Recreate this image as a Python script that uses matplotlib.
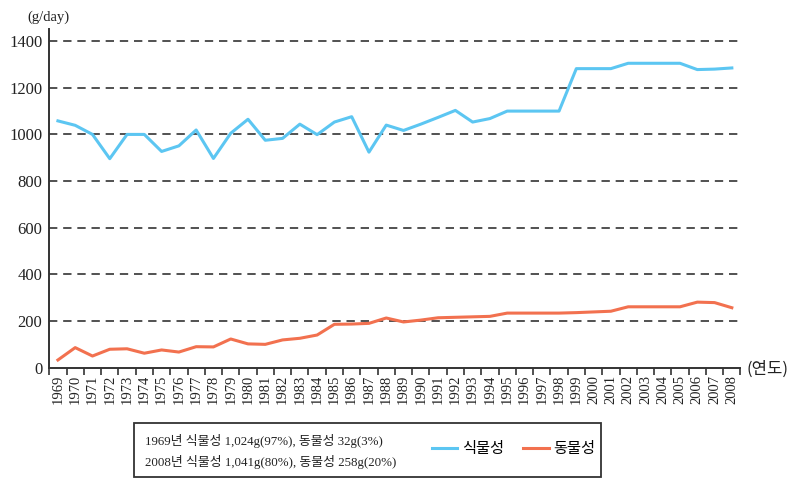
import matplotlib.pyplot as plt
import matplotlib.patches as mpatches
import numpy as np

# per-capita daily food supply (g/day)
years = list(range(1969, 2009))
plant = [1058, 1039, 1000, 896, 1000, 1000, 927, 951, 1019, 897,
         1005, 1065, 975, 983, 1044, 999, 1053, 1076, 924, 1040,
         1017, 1044, 1073, 1103, 1053, 1068, 1100, 1100, 1100, 1100,
         1282, 1282, 1282, 1305, 1305, 1305, 1305, 1278, 1280, 1285]
animal = [33, 86, 50, 79, 81, 62, 76, 67, 90, 89,
          123, 102, 100, 119, 126, 140, 186, 187, 190, 213,
          196, 204, 214, 216, 218, 220, 234, 234, 234, 234,
          236, 239, 242, 261, 261, 261, 261, 281, 279, 257]
yticks = [0, 200, 400, 600, 800, 1000, 1200, 1400]
note_lines = ["1969년 식물성 1,024g(97%), 동물성 32g(3%)",
              "2008년 식물성 1,041g(80%), 동물성 258g(20%)"]

serif_kr = ['Liberation Serif', 'Noto Sans CJK KR']
sans_kr = ['Noto Sans CJK KR', 'DejaVu Sans']
blue = '#5cc6f2'
red = '#f2714f'
dark = '#333333'

fig = plt.figure(figsize=(8, 4.93), dpi=100)
ax = fig.add_axes([0.0616, 0.2542, 0.864, 0.687])

x = np.arange(len(years))
l1, = ax.plot(x, plant, color=blue, lw=2.2, label='식물성', zorder=3)
l2, = ax.plot(x, animal, color=red, lw=2.2, label='동물성', zorder=3)

# dashed gridlines
for v in yticks[1:]:
    ax.axhline(v, color=dark, lw=1.2, ls=(0, (5, 3.5)), zorder=1)

ax.set_xlim(-0.5, len(years) - 0.5)
ax.set_ylim(0, 1452)
ax.set_yticks(yticks)
ax.set_yticklabels([str(v) for v in yticks], family=serif_kr, fontsize=12)
ax.tick_params(axis='y', length=0, pad=5, colors='#222222')

ax.set_xticks(x)
ax.set_xticklabels([str(y) for y in years], rotation=90, family=serif_kr, fontsize=10.5)
ax.set_xticks(np.arange(-0.5, len(years)), minor=True)
ax.tick_params(axis='x', which='major', length=0, pad=5, colors='#222222')
ax.tick_params(axis='x', which='minor', length=5, width=1.2, color=dark)

for s in ['top', 'right']:
    ax.spines[s].set_visible(False)
for s in ['left', 'bottom']:
    ax.spines[s].set_color(dark)
    ax.spines[s].set_linewidth(1.4)

fig.text(27 / 800, 1 - 17 / 493, '(g/day)', family=serif_kr, fontsize=10.5,
         va='center', ha='left', color='#222222')
fig.text(747 / 800, 1 - 369 / 493, '(연도)', family=sans_kr, fontsize=12,
         va='center', ha='left', color='#222222')

# note box
box = mpatches.Rectangle((134 / 800, 1 - 477 / 493), (601 - 134) / 800, (477 - 423) / 493,
                         transform=fig.transFigure, fill=False, ec=dark, lw=1.3)
fig.add_artist(box)
fig.text(145 / 800, 1 - 441 / 493, note_lines[0], family=serif_kr, fontsize=9.3,
         va='center', ha='left', color='#222222')
fig.text(145 / 800, 1 - 462 / 493, note_lines[1], family=serif_kr, fontsize=9.3,
         va='center', ha='left', color='#222222')

ax.legend(handles=[l1, l2], loc='center left', ncol=2, frameon=False,
          bbox_to_anchor=(432 / 800, 1 - 449 / 493), bbox_transform=fig.transFigure,
          borderaxespad=0, borderpad=0,
          handlelength=1.65, handletextpad=0.33, columnspacing=1.25,
          prop={'family': sans_kr, 'size': 11})

fig.savefig('out.png', dpi=100)
